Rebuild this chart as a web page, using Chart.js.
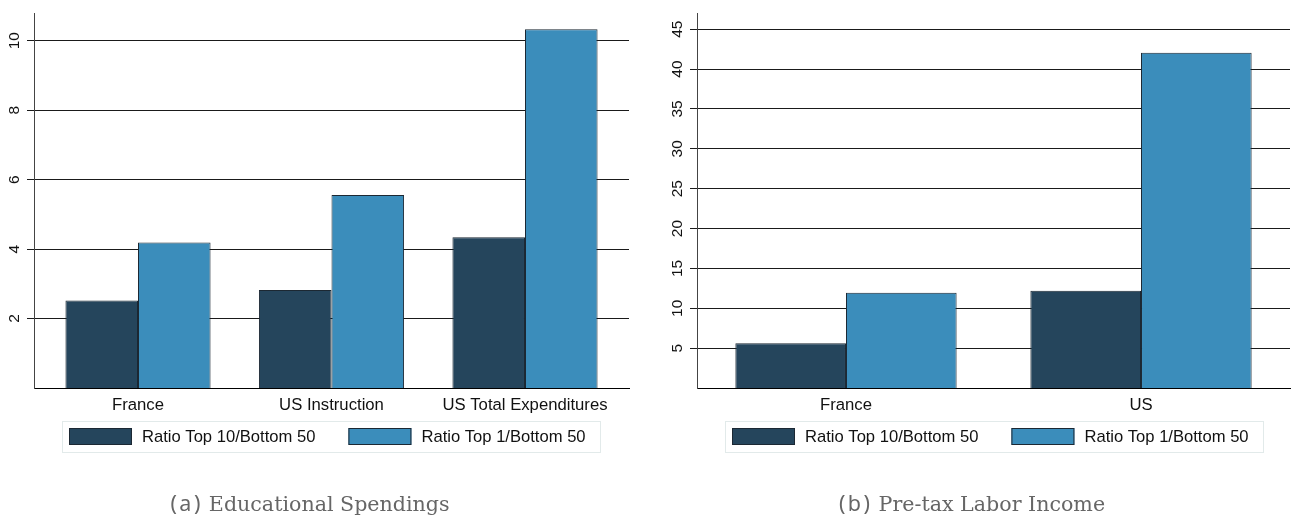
<!DOCTYPE html>
<html>
<head>
<meta charset="utf-8">
<script src="https://cdn.jsdelivr.net/npm/chart.js@4.4.1/dist/chart.umd.min.js"></script>
<style>
  html, body { margin: 0; padding: 0; background: #fff; width: 1295px; height: 517px; overflow: hidden; }
  canvas { position: absolute; top: 0; }
  #eduChart { left: 0; }
  #laborChart { left: 663px; }
  .cap { position: absolute; top: 488px; color: #666; white-space: nowrap;
         font-family: "DejaVu Serif", serif; font-size: 20.6px; transform: translateX(-50%); }
  .cap .tag { font-family: "Noto Sans", sans-serif; font-size: 21.5px; letter-spacing: 2.5px; margin-right: 6px; }
  #capA { left: 310px; }
  #capB { left: 972px; }
</style>
</head>
<body>
<canvas id="eduChart" width="640" height="517"></canvas>
<canvas id="laborChart" width="632" height="517"></canvas>
<div class="cap" id="capA"><span class="tag">(a)</span>Educational Spendings</div>
<div class="cap" id="capB"><span class="tag">(b)</span>Pre-tax Labor Income</div>
<script>
// Series shared by both panels
const seriesNames = ['Ratio Top 10/Bottom 50', 'Ratio Top 1/Bottom 50'];

// Panel (a): educational spendings ratios
const eduCategories = ['France', 'US Instruction', 'US Total Expenditures'];
const eduTop10 = [2.52, 2.82, 4.34];
const eduTop1 = [4.19, 5.56, 10.33];
const eduTicks = [2, 4, 6, 8, 10];

// Panel (b): pre-tax labor income ratios
const laborCategories = ['France', 'US'];
const laborTop10 = [5.62, 12.2];
const laborTop1 = [11.95, 42.04];
const laborTicks = [5, 10, 15, 20, 25, 30, 35, 40, 45];

const DARK = '#25455c';
const LIGHT = '#3b8dbb';
const EDGE = '#1c2833';
const SANS = '"Liberation Sans", Arial, Helvetica, sans-serif';

// Legend drawn inside a light frame under the plot
const boxedLegend = {
  id: 'boxedLegend',
  afterDraw(chart) {
    const { ctx, chartArea } = chart;
    const bx = chartArea.left + 28, by = 421, bw = 538, bh = 31;
    ctx.save();
    ctx.strokeStyle = '#e2eaea';
    ctx.lineWidth = 1;
    ctx.strokeRect(bx + 0.5, by + 0.5, bw, bh);
    ctx.font = '16.6px ' + SANS;
    ctx.textBaseline = 'middle';
    ctx.textAlign = 'left';
    let x = bx + 7;
    chart.data.datasets.forEach(ds => {
      ctx.fillStyle = ds.backgroundColor;
      ctx.fillRect(x, 428, 63, 17);
      ctx.strokeStyle = EDGE;
      ctx.strokeRect(x + 0.5, 428.5, 62, 16);
      ctx.fillStyle = '#111';
      ctx.fillText(ds.label, x + 73, 437.5);
      x += 73 + ctx.measureText(ds.label).width + 33;
    });
    ctx.restore();
  }
};

function makeChart(id, cats, top10, top1, ticks, yMax, xPad, padRight) {
  return new Chart(document.getElementById(id), {
    type: 'bar',
    data: {
      datasets: [
        { label: seriesNames[0], data: top10.map((v, i) => ({ x: i, y: v })),
          backgroundColor: DARK, borderColor: EDGE, borderWidth: 1 },
        { label: seriesNames[1], data: top1.map((v, i) => ({ x: i, y: v })),
          backgroundColor: LIGHT, borderColor: EDGE, borderWidth: 1 }
      ]
    },
    options: {
      responsive: false,
      animation: false,
      devicePixelRatio: 1,
      layout: { padding: { top: 12, right: padRight, left: 0, bottom: 0 } },
      datasets: { bar: { categoryPercentage: 0.75, barPercentage: 1 } },
      plugins: { legend: { display: false }, tooltip: { enabled: false } },
      scales: {
        x: {
          type: 'linear',
          offset: false,
          min: -0.5 - xPad,
          max: cats.length - 0.5 + xPad,
          afterBuildTicks: s => { s.ticks = cats.map((c, i) => ({ value: i })); },
          afterFit: s => { s.height = 129; },
          grid: { display: false, offset: false },
          border: { display: true, color: '#000', width: 1 },
          ticks: {
            callback: v => cats[v],
            color: '#111',
            font: { family: SANS, size: 16.7 },
            padding: -1,
            autoSkip: false,
            maxRotation: 0
          }
        },
        y: {
          min: 0,
          max: yMax,
          afterBuildTicks: s => { s.ticks = ticks.map(v => ({ value: v })); },
          afterFit: s => { s.width = 34; },
          grid: { color: '#1a1a1a', lineWidth: 1, tickLength: 7, drawTicks: true },
          border: { display: true, color: '#444', width: 1 },
          ticks: {
            minRotation: 90,
            maxRotation: 90,
            crossAlign: 'center',
            padding: 4,
            color: '#111',
            font: { family: SANS, size: 15.5 }
          }
        }
      }
    },
    plugins: [boxedLegend]
  });
}

makeChart('eduChart', eduCategories, eduTop10, eduTop1, eduTicks, 10.79, 0.0375, 11);
makeChart('laborChart', laborCategories, laborTop10, laborTop1, laborTicks, 47, 0.005, 5);
</script>
</body>
</html>
